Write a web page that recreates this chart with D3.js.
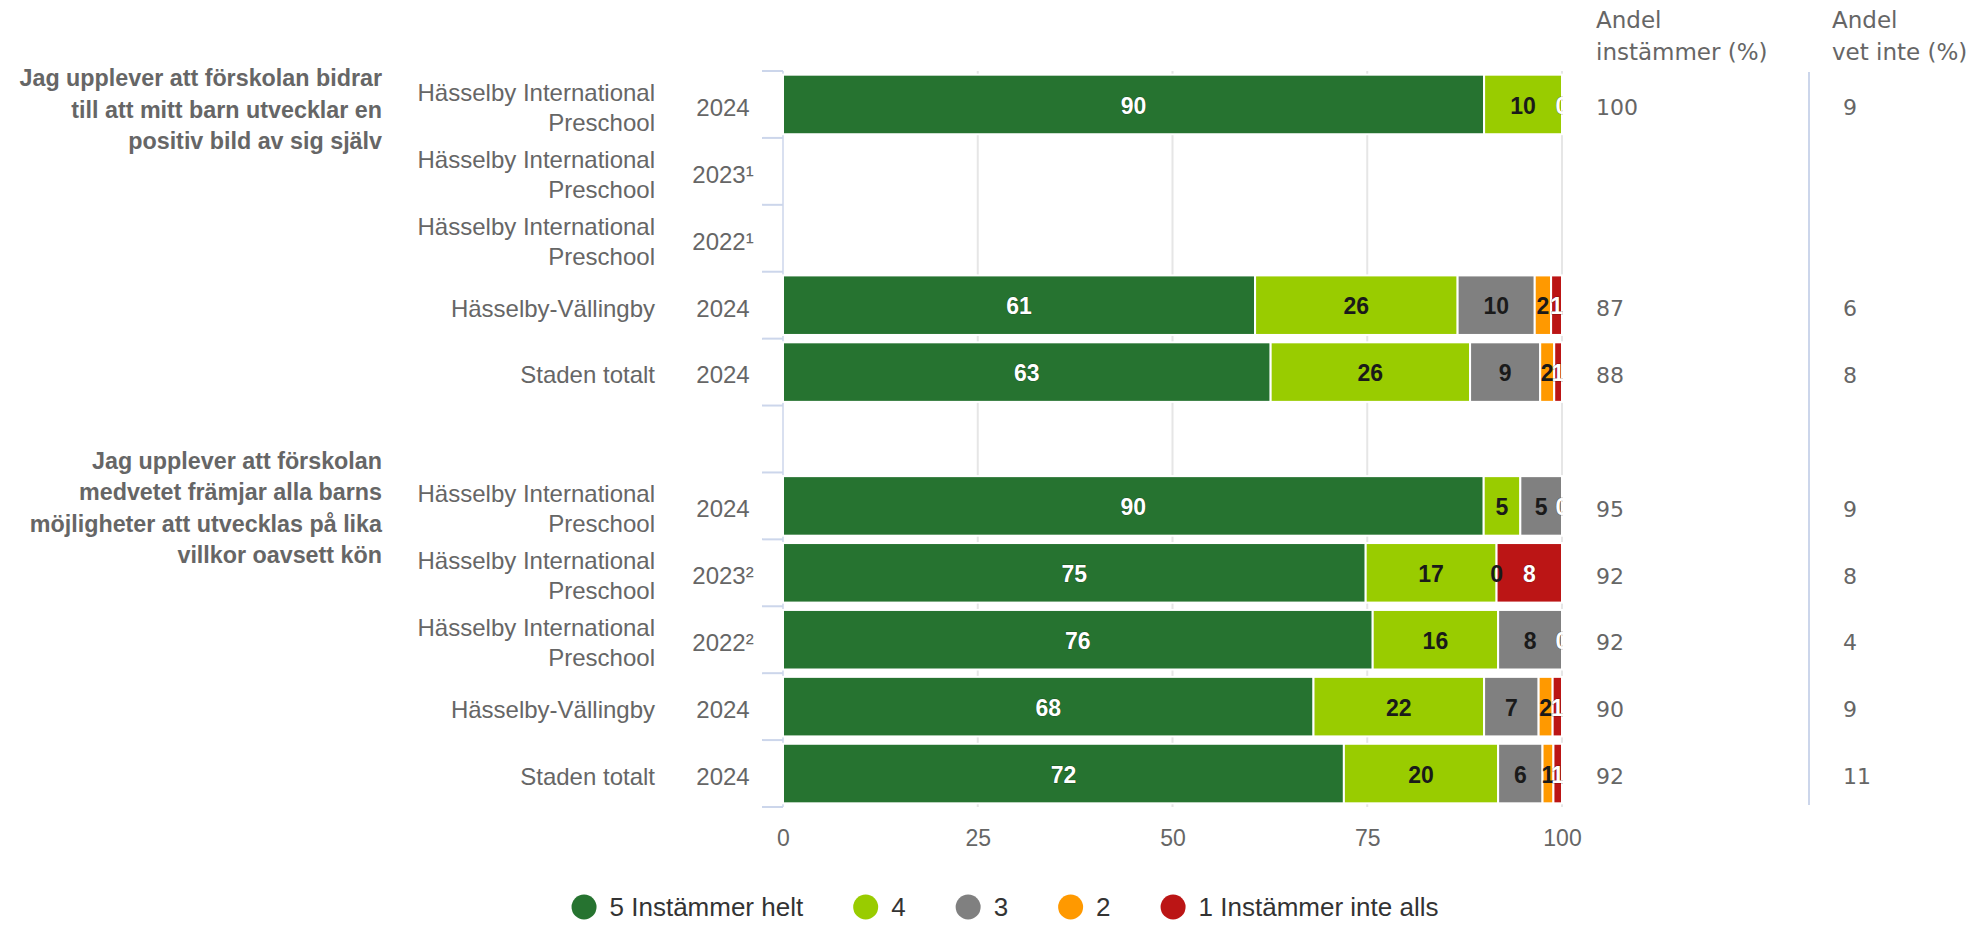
<!DOCTYPE html>
<html>
<head>
<meta charset="utf-8">
<script src="https://cdn.jsdelivr.net/npm/d3@7"></script>
<style>
  body { margin: 0; background: #fff; }
  svg { display: block; font-family: "Liberation Sans", Arial, sans-serif; }
</style>
</head>
<body>
<div id="chart"></div>
<script>
// questions (one per group) and the rows under them
const questions = [
  "Jag upplever att förskolan bidrar till att mitt barn utvecklar en positiv bild av sig själv",
  "Jag upplever att förskolan medvetet främjar alla barns möjligheter att utvecklas på lika villkor oavsett kön"
];
const questionRow = [0, 6];

const units = [
  "Hässelby International Preschool", "Hässelby International Preschool", "Hässelby International Preschool",
  "Hässelby-Vällingby", "Staden totalt", "",
  "Hässelby International Preschool", "Hässelby International Preschool", "Hässelby International Preschool",
  "Hässelby-Vällingby", "Staden totalt"
];
const years = ["2024", "2023¹", "2022¹", "2024", "2024", "", "2024", "2023²", "2022²", "2024", "2024"];

// series, null = no value
const s5 = [90, null, null, 60.6, 62.6, null, 89.95, 74.8, 75.7, 68.1, 72.0];
const s4 = [10, null, null, 26.0, 25.6, null, 4.7, 16.8, 16.1, 21.9, 19.8];
const s3 = [null, null, null, 9.9, 9.0, null, 5.35, 0, 8.2, 7.0, 5.7];
const s2 = [null, null, null, 2.1, 1.8, null, null, null, null, 1.8, 1.4];
const s1 = [0, null, null, 1.4, 1.0, null, 0, 8.4, 0, 1.2, 1.1];

const agreeShare = [100, null, null, 87, 88, null, 95, 92, 92, 90, 92];
const dontKnow = [9, null, null, 6, 8, null, 9, 8, 4, 9, 11];

const xTicks = [0, 25, 50, 75, 100];

const series = [
  { name: "5 Instämmer helt", values: s5, color: "#267330", text: "#fff" },
  { name: "4", values: s4, color: "#99cc00", text: "#1a1a1a" },
  { name: "3", values: s3, color: "#808080", text: "#1a1a1a" },
  { name: "2", values: s2, color: "#ff9900", text: "#1a1a1a" },
  { name: "1 Instämmer inte alls", values: s1, color: "#bb1515", text: "#fff" }
];

const W = 1970, H = 925;
const svg = d3.select("#chart").append("svg").attr("width", W).attr("height", H);

const x = d3.scaleLinear().domain([0, 100]).range([783, 1562]);
const y = d3.scaleBand().domain(d3.range(units.length)).range([71, 807]);
const bh = y.bandwidth() * 0.89;

// word wrap, lines centred on the text's y
function wrap(textSel, width, lineH, fs) {
  textSel.each(function () {
    const t = d3.select(this);
    const words = t.text().split(" ");
    const xx = t.attr("x");
    t.text(null);
    let lines = [], line = [];
    const probe = t.append("tspan");
    words.forEach(w => {
      line.push(w);
      probe.text(line.join(" "));
      if (probe.node().getComputedTextLength() > width && line.length > 1) {
        line.pop();
        lines.push(line.join(" "));
        line = [w];
      }
    });
    lines.push(line.join(" "));
    probe.remove();
    const off = -(lines.length - 1) / 2 * lineH + fs * 0.35;
    lines.forEach((l, i) => {
      t.append("tspan").attr("x", xx).attr("dy", i === 0 ? off : lineH).text(l);
    });
  });
}

// gridlines
svg.append("g").selectAll("line")
  .data(xTicks.slice(1))
  .join("line")
  .attr("x1", d => x(d)).attr("x2", d => x(d))
  .attr("y1", 71).attr("y2", 807)
  .attr("stroke", "#e6e6e6").attr("stroke-width", 2);

// y axis line + ticks at band edges
svg.append("line")
  .attr("x1", 783).attr("x2", 783).attr("y1", 71).attr("y2", 807)
  .attr("stroke", "#ccd6eb").attr("stroke-width", 1.5);
svg.append("g").selectAll("line")
  .data(d3.range(units.length + 1))
  .join("line")
  .attr("x1", 762).attr("x2", 783)
  .attr("y1", d => 71 + d * y.step()).attr("y2", d => 71 + d * y.step())
  .attr("stroke", "#ccd6eb").attr("stroke-width", 2);

// stacked segments
const segs = [];
units.forEach((u, i) => {
  let acc = 0;
  series.forEach(s => {
    const v = s.values[i];
    if (v === null) return;
    segs.push({ row: i, x0: acc, x1: acc + v, v: v, s: s });
    acc += v;
  });
});

svg.append("defs").append("clipPath").attr("id", "plot")
  .append("rect").attr("x", 783).attr("y", 71).attr("width", 780).attr("height", 736);

const bars = svg.append("g");
bars.selectAll("rect")
  .data(segs.filter(d => d.v > 0))
  .join("rect")
  .attr("x", d => x(d.x0))
  .attr("y", d => y(d.row) + (y.bandwidth() - bh) / 2)
  .attr("width", d => x(d.x1) - x(d.x0))
  .attr("height", bh)
  .attr("fill", d => d.s.color)
  .attr("stroke", "#fff").attr("stroke-width", 2);

svg.append("g").attr("clip-path", "url(#plot)")
  .selectAll("text")
  .data(segs)
  .join("text")
  .attr("x", d => x((d.x0 + d.x1) / 2))
  .attr("y", d => y(d.row) + y.bandwidth() / 2 + 1)
  .attr("dy", "0.35em")
  .attr("text-anchor", "middle")
  .attr("font-size", 23).attr("font-weight", "bold")
  .attr("fill", d => d.s.text)
  .attr("stroke", d => d.s.text === "#fff" ? "rgba(0,0,0,0.35)" : "none")
  .attr("stroke-width", 1).attr("paint-order", "stroke")
  .text(d => Math.round(d.v));

// x axis
const xAxis = svg.append("g")
  .attr("transform", "translate(0,807)")
  .call(d3.axisBottom(x).tickValues(xTicks).tickSize(0).tickPadding(23));
xAxis.select(".domain").remove();
xAxis.selectAll("text").attr("font-size", 23).attr("fill", "#666")
  .attr("font-family", "Liberation Sans, Arial, sans-serif");

// row labels
svg.append("g").selectAll("text")
  .data(units)
  .join("text")
  .attr("x", 655)
  .attr("y", (d, i) => y(i) + y.bandwidth() / 2 + 3)
  .attr("text-anchor", "end")
  .attr("font-size", 24).attr("fill", "#666")
  .text(d => d)
  .call(wrap, 250, 30, 24);

svg.append("g").selectAll("text")
  .data(years)
  .join("text")
  .attr("x", 723)
  .attr("y", (d, i) => y(i) + y.bandwidth() / 2 + 3)
  .attr("dy", "0.35em")
  .attr("text-anchor", "middle")
  .attr("font-size", 24).attr("fill", "#666")
  .text(d => d);

// question titles
svg.append("g").selectAll("text")
  .data(questions)
  .join("text")
  .attr("x", 382)
  .attr("y", (d, i) => y(questionRow[i]) + y.bandwidth() / 2 + (i === 0 ? 5 : 2))
  .attr("text-anchor", "end")
  .attr("font-size", 23.3).attr("font-weight", "bold").attr("fill", "#666")
  .text(d => d)
  .call(wrap, 372, 31.3, 23.3);

// right hand columns
const colFont = "DejaVu Sans, Verdana, sans-serif";
const cols = [
  { head: ["Andel", "instämmer (%)"], hx: 1596, vx: 1596, vals: agreeShare },
  { head: ["Andel", "vet inte (%)"], hx: 1832, vx: 1843, vals: dontKnow }
];
cols.forEach(c => {
  svg.append("g").selectAll("text")
    .data(c.head)
    .join("text")
    .attr("x", c.hx).attr("y", (d, i) => 20 + i * 32).attr("dy", "0.35em")
    .attr("font-family", colFont).attr("font-size", 23).attr("fill", "#666")
    .text(d => d);
  svg.append("g").selectAll("text")
    .data(c.vals.map((v, i) => ({ v, i })).filter(d => d.v !== null))
    .join("text")
    .attr("x", c.vx)
    .attr("y", d => y(d.i) + y.bandwidth() / 2 + 3).attr("dy", "0.35em")
    .attr("font-family", colFont).attr("font-size", 22).attr("fill", "#666")
    .text(d => d.v);
});
svg.append("line")
  .attr("x1", 1809).attr("x2", 1809).attr("y1", 72).attr("y2", 805)
  .attr("stroke", "#ccd6eb").attr("stroke-width", 2);

// legend
const legend = svg.append("g");
let lx = 0;
series.forEach(s => {
  const g = legend.append("g").attr("transform", `translate(${lx},0)`);
  g.append("circle").attr("cx", 12.5).attr("cy", 0).attr("r", 12.5).attr("fill", s.color);
  const t = g.append("text").attr("x", 38).attr("dy", "0.35em")
    .attr("font-size", 26).attr("fill", "#333").text(s.name);
  lx += 38 + t.node().getComputedTextLength() + 50;
});
legend.attr("transform", `translate(${1005 - (lx - 50) / 2},907)`);
</script>
</body>
</html>
